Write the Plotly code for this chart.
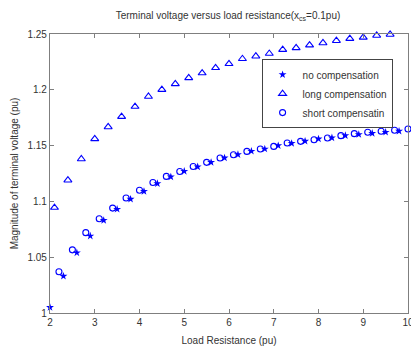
import plotly.graph_objects as go

# ---- data ----
x_no = [2.0, 2.3, 2.6, 2.9, 3.2, 3.5, 3.8, 4.1, 4.4, 4.7, 5.0, 5.3, 5.6, 5.9,
        6.2, 6.5, 6.8, 7.1, 7.4, 7.7, 8.0, 8.3, 8.6, 8.9, 9.2, 9.5, 9.8]
v_no = [1.005, 1.033, 1.054, 1.069, 1.083, 1.093, 1.102, 1.109, 1.116, 1.122,
        1.127, 1.131, 1.135, 1.139, 1.142, 1.145, 1.147, 1.150, 1.152, 1.154,
        1.156, 1.157, 1.159, 1.160, 1.161, 1.162, 1.163]

x_long = [2.1, 2.4, 2.7, 3.0, 3.3, 3.6, 3.9, 4.2, 4.5, 4.8, 5.1, 5.4, 5.7, 6.0,
          6.3, 6.6, 6.9, 7.2, 7.5, 7.8, 8.1, 8.4, 8.7, 9.0, 9.3, 9.6, 9.9]
v_long = [1.0945, 1.119, 1.138, 1.156, 1.1667, 1.176, 1.185, 1.194, 1.2002,
          1.2053, 1.2107, 1.215, 1.2197, 1.2233, 1.2278, 1.2301, 1.2325, 1.236,
          1.2376, 1.240, 1.242, 1.244, 1.2459, 1.247, 1.2487, 1.2496, 1.2505]

x_short = [2.2, 2.5, 2.8, 3.1, 3.4, 3.7, 4.0, 4.3, 4.6, 4.9, 5.2, 5.5, 5.8, 6.1,
           6.4, 6.7, 7.0, 7.3, 7.6, 7.9, 8.2, 8.5, 8.8, 9.1, 9.4, 9.7, 10.0]
v_short = [1.037, 1.0566, 1.072, 1.0844, 1.094, 1.103, 1.110, 1.117, 1.1224,
           1.1268, 1.1313, 1.135, 1.1389, 1.1418, 1.1448, 1.147, 1.1493, 1.1523,
           1.1538, 1.1553, 1.1568, 1.1589, 1.1607, 1.1619, 1.1628, 1.1637, 1.1649]

x_ticks = [2, 3, 4, 5, 6, 7, 8, 9, 10]
y_ticks = [1, 1.05, 1.1, 1.15, 1.2, 1.25]
y_tick_labels = ["1", "1.05", "1.1", "1.15", "1.2", "1.25"]

BLUE = "rgb(0,0,255)"
FONT = "Liberation Sans, Arial, sans-serif"
TXT = "#333333"
AX = "#7f7f7f"

fig = go.Figure()
fig.add_trace(go.Scatter(x=x_no, y=v_no, mode="markers", name="no compensation",
                         marker=dict(symbol="star", size=6, color=BLUE,
                                     line=dict(width=0)), cliponaxis=False))
fig.add_trace(go.Scatter(x=x_long, y=v_long, mode="markers", name="long compensation",
                         marker=dict(symbol="triangle-up-open", size=7, color=BLUE,
                                     line=dict(width=1.1, color=BLUE)), cliponaxis=False))
fig.add_trace(go.Scatter(x=x_short, y=v_short, mode="markers", name="short compensatin",
                         marker=dict(symbol="circle-open", size=6, color=BLUE,
                                     line=dict(width=1.1, color=BLUE)), cliponaxis=False))

axis_common = dict(showgrid=False, zeroline=False, showline=True, linecolor=AX,
                   linewidth=1.3, mirror="ticks", ticks="inside", ticklen=4,
                   tickcolor=AX, tickwidth=1, ticklabeloverflow="allow",
                   automargin=False,
                   tickfont=dict(family=FONT, size=10, color=TXT))

fig.update_layout(
    width=411, height=347,
    margin=dict(l=50, r=3, t=34, b=34),
    paper_bgcolor="white", plot_bgcolor="white",
    title=dict(text="Terminal voltage versus load resistance(x<sub>cs</sub>=0.1pu)",
               x=228 / 411, xanchor="center", y=1 - 15 / 347, yanchor="middle",
               font=dict(family=FONT, size=10, color=TXT)),
    xaxis=dict(range=[2, 10], tickvals=x_ticks, ticktext=[str(t) for t in x_ticks],
               title=dict(text="Load Resistance (pu)", standoff=9,
                          font=dict(family=FONT, size=10, color=TXT)),
               **axis_common),
    yaxis=dict(range=[1, 1.25], tickvals=y_ticks, ticktext=y_tick_labels,
               title=dict(text="Magnitude of terminal voltage (pu)", standoff=6,
                          font=dict(family=FONT, size=10, color=TXT)),
               **axis_common),
    legend=dict(x=0.591, y=0.91, xanchor="left", yanchor="top",
                bgcolor="white", bordercolor="#444444", borderwidth=1,
                font=dict(family=FONT, size=10, color=TXT),
                itemwidth=30, tracegroupgap=0),
    showlegend=True,
)

fig.write_html("out.html", config={"displayModeBar": False},
               post_script="document.body.style.margin='0';document.body.style.overflow='hidden';")
